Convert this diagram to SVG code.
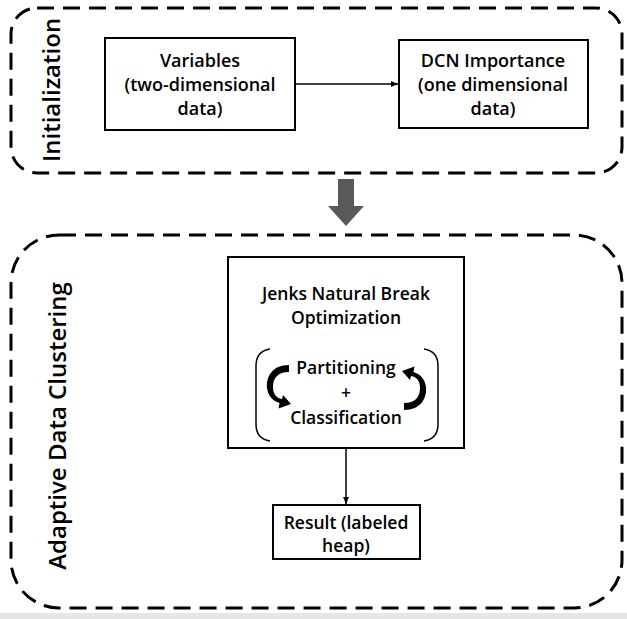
<svg xmlns="http://www.w3.org/2000/svg" width="627" height="619" viewBox="0 0 627 619">
<defs>
<style>
.t{font-family:"Open Sans","Liberation Sans",sans-serif;font-weight:600;font-size:18px;fill:#000;text-anchor:middle;dominant-baseline:central}
.m{font-size:17.5px}
.big{font-size:24px}
.box{fill:#fff;stroke:#000;stroke-width:2}
.dash{fill:none;stroke:#000;stroke-width:3;stroke-dasharray:17 9}
.ln{stroke:#000;stroke-width:1.5;fill:none}
</style>
<marker id="ah" markerWidth="8" markerHeight="8" refX="7" refY="4" orient="auto" markerUnits="userSpaceOnUse">
<path d="M0,1 L7,4 L0,7 Z" fill="#000"/>
</marker>
<path id="loop" d="M289,365 C272,365 266,377 267,388 C268,396 273,401 279.5,403 L278.5,408.5 L291,404 L283,395 L282,399 C276,398 273,394 273,387 C273,378 278,372 289,372 Z" fill="#000"/>
</defs>
<rect width="627" height="619" fill="#fff"/>
<rect x="0" y="613" width="627" height="6" fill="#e6e6e6"/>

<g id="init-group">
<rect class="dash" x="11" y="8" width="611" height="165" rx="26"/>
<text class="t big" transform="translate(50,90) rotate(-90)">Initialization</text>
</g>

<g id="variables">
<rect class="box" x="105" y="38" width="190" height="92"/>
<text class="t" x="200" y="60">Variables</text>
<text class="t" x="200" y="84">(two-dimensional</text>
<text class="t" x="200" y="108">data)</text>
</g>

<g id="dcn">
<rect class="box" x="399" y="40" width="189" height="88"/>
<text class="t" x="493" y="60">DCN Importance</text>
<text class="t" x="493" y="84">(one dimensional</text>
<text class="t" x="493" y="108">data)</text>
</g>

<g id="big-arrow">
<path d="M338,179 H354 V206 H364 L346,226 L328,206 H338 Z" fill="#595959"/>
</g>

<g id="adc-group">
<rect class="dash" x="11" y="235" width="611" height="373" rx="48"/>
<text class="t big" transform="translate(56,426) rotate(-90)">Adaptive Data Clustering</text>
</g>

<g id="jenks">
<rect class="box" x="228" y="257" width="236" height="191"/>
<text class="t m" x="346" y="293">Jenks Natural Break</text>
<text class="t m" x="346" y="317">Optimization</text>
<path class="ln" d="M270,349 Q256,351 256,366 V424 Q256,439 270,441"/>
<path class="ln" d="M424,349 Q438,351 438,366 V424 Q438,439 424,441"/>
<text class="t m" x="346" y="367">Partitioning</text>
<text class="t m" x="346" y="392">+</text>
<text class="t m" x="346" y="417">Classification</text>
<use href="#loop"/>
<use href="#loop" transform="rotate(180,346.5,387.5)"/>
</g>

<g id="result">
<rect class="box" x="273" y="505" width="147" height="54"/>
<text class="t m" x="346" y="522">Result (labeled</text>
<text class="t m" x="346" y="545">heap)</text>
</g>

<g id="connectors">
<line class="ln" x1="295" y1="84" x2="398" y2="84" marker-end="url(#ah)"/>
<line class="ln" x1="346" y1="448" x2="346" y2="504" marker-end="url(#ah)"/>
</g>
</svg>
